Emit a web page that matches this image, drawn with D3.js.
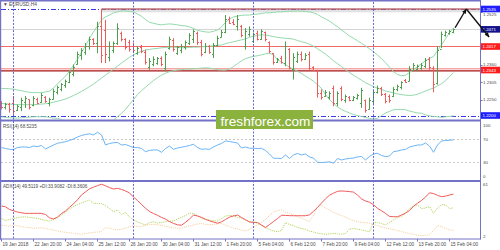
<!DOCTYPE html>
<html>
<head>
<meta charset="utf-8">
<script src="https://cdn.jsdelivr.net/npm/d3@7/dist/d3.min.js"></script>
<style>
html,body{margin:0;padding:0;background:#fff;}
svg{display:block;}
text{font-family:"Liberation Sans",Arial,sans-serif;}
</style>
</head>
<body>
<svg id="chart" width="500" height="250"></svg>
<script>
// ---------------- DATA ----------------
const symbolTitle = "\u25BC EURUSD,H4";
const rsiTitle = "RSI(14) 68.5235";
const adxTitle = "ADX(14) 49.5119 +DI:33.9082 -DI:8.3606";

const opens = [
1.2240,1.2226,1.2236,1.2238,1.2216,1.2228,1.2242,1.2252,1.2232,1.2252,
1.2244,1.2258,1.2240,1.2252,1.2275,1.2284,1.2295,1.2306,1.2332,1.2362,
1.2390,1.2400,1.2418,1.2440,1.2428,1.2482,1.2470,1.2385,1.2405,1.2428,
1.2460,1.2440,1.2430,1.2420,1.2398,1.2415,1.2400,1.2352,1.2362,1.2366,
1.2380,1.2350,1.2412,1.2438,1.2398,1.2405,1.2415,1.2428,1.2440,1.2460,
1.2432,1.2400,1.2418,1.2395,1.2422,1.2448,1.2462,1.2505,1.2495,1.2480,
1.2482,1.2420,1.2455,1.2435,1.2460,1.2442,1.2462,1.2430,1.2398,1.2368,
1.2380,1.2365,1.2408,1.2345,1.2372,1.2395,1.2378,1.2392,1.2352,1.2340,
1.2272,1.2262,1.2258,1.2285,1.2238,1.2285,1.2248,1.2258,1.2250,1.2254,
1.2240,1.2248,1.2220,1.2245,1.2274,1.2288,1.2268,1.2260,1.2260,1.2282,
1.2290,1.2312,1.2308,1.2342,1.2345,1.2350,1.2356,1.2378,1.2350,1.2302,
1.2410,1.2452,1.2458,1.2462];
const highs = [
1.2245,1.2240,1.2240,1.2261,1.2235,1.2256,1.2261,1.2250,1.2261,1.2256,
1.2271,1.2261,1.2256,1.2284,1.2294,1.2302,1.2313,1.2342,1.2360,1.2401,
1.2412,1.2428,1.2448,1.2443,1.2495,1.2535,1.2501,1.2433,1.2433,1.2490,
1.2464,1.2443,1.2438,1.2428,1.2417,1.2422,1.2407,1.2381,1.2386,1.2384,
1.2386,1.2401,1.2448,1.2443,1.2419,1.2425,1.2436,1.2459,1.2471,1.2464,
1.2438,1.2428,1.2422,1.2428,1.2451,1.2469,1.2516,1.2511,1.2503,1.2516,
1.2485,1.2475,1.2480,1.2461,1.2467,1.2471,1.2464,1.2433,1.2396,1.2381,
1.2388,1.2433,1.2412,1.2396,1.2401,1.2401,1.2396,1.2401,1.2355,1.2344,
1.2282,1.2280,1.2276,1.2294,1.2276,1.2292,1.2266,1.2261,1.2261,1.2268,
1.2287,1.2250,1.2256,1.2282,1.2294,1.2290,1.2271,1.2266,1.2290,1.2297,
1.2308,1.2315,1.2355,1.2365,1.2360,1.2365,1.2381,1.2384,1.2355,1.2417,
1.2464,1.2467,1.2469,1.2474];
const lows = [
1.2219,1.2219,1.2209,1.2203,1.2214,1.2214,1.2224,1.2219,1.2229,1.2235,
1.2240,1.2240,1.2229,1.2250,1.2266,1.2276,1.2287,1.2302,1.2323,1.2360,
1.2375,1.2391,1.2407,1.2422,1.2396,1.2365,1.2365,1.2370,1.2396,1.2422,
1.2433,1.2407,1.2401,1.2396,1.2391,1.2396,1.2360,1.2344,1.2355,1.2360,
1.2355,1.2339,1.2407,1.2401,1.2391,1.2396,1.2407,1.2422,1.2428,1.2422,
1.2386,1.2396,1.2394,1.2381,1.2417,1.2446,1.2459,1.2488,1.2484,1.2467,
1.2446,1.2407,1.2448,1.2428,1.2436,1.2438,1.2433,1.2396,1.2360,1.2365,
1.2363,1.2355,1.2345,1.2313,1.2365,1.2370,1.2375,1.2344,1.2339,1.2256,
1.2250,1.2259,1.2250,1.2229,1.2229,1.2245,1.2240,1.2245,1.2245,1.2250,
1.2224,1.2209,1.2219,1.2235,1.2269,1.2261,1.2238,1.2240,1.2259,1.2276,
1.2282,1.2303,1.2308,1.2339,1.2339,1.2344,1.2350,1.2344,1.2273,1.2297,
1.2412,1.2448,1.2454,1.2459];
const closes = [
1.2228,1.2236,1.2220,1.2214,1.2230,1.2250,1.2256,1.2228,1.2255,1.2240,
1.2265,1.2245,1.2252,1.2278,1.2290,1.2298,1.2309,1.2336,1.2352,1.2394,
1.2405,1.2420,1.2440,1.2428,1.2480,1.2390,1.2395,1.2420,1.2428,1.2475,
1.2440,1.2415,1.2410,1.2405,1.2412,1.2402,1.2368,1.2372,1.2378,1.2380,
1.2362,1.2395,1.2440,1.2410,1.2414,1.2420,1.2430,1.2452,1.2465,1.2430,
1.2395,1.2420,1.2400,1.2422,1.2445,1.2462,1.2505,1.2492,1.2488,1.2505,
1.2452,1.2465,1.2472,1.2455,1.2442,1.2465,1.2440,1.2402,1.2368,1.2378,
1.2368,1.2420,1.2350,1.2385,1.2392,1.2378,1.2390,1.2350,1.2342,1.2270,
1.2258,1.2275,1.2270,1.2240,1.2270,1.2252,1.2262,1.2250,1.2258,1.2265,
1.2280,1.2218,1.2250,1.2275,1.2288,1.2268,1.2245,1.2248,1.2284,1.2292,
1.2304,1.2306,1.2345,1.2358,1.2355,1.2360,1.2375,1.2352,1.2300,1.2405,
1.2455,1.2462,1.2466,1.2471];

const bbUpper = [
1.2285,1.2285,1.2284,1.2283,1.2280,1.2278,1.2275,1.2273,1.2272,1.2272,
1.2272,1.2274,1.2277,1.2286,1.2300,1.2311,1.2324,1.2339,1.2358,1.2377,
1.2399,1.2419,1.2443,1.2463,1.2482,1.2501,1.2510,1.2516,1.2523,1.2526,
1.2529,1.2529,1.2527,1.2526,1.2519,1.2512,1.2502,1.2493,1.2490,1.2487,
1.2485,1.2487,1.2488,1.2487,1.2485,1.2483,1.2482,1.2479,1.2474,1.2468,
1.2465,1.2463,1.2462,1.2465,1.2469,1.2479,1.2493,1.2504,1.2510,1.2513,
1.2515,1.2516,1.2516,1.2518,1.2519,1.2521,1.2523,1.2523,1.2524,1.2526,
1.2526,1.2527,1.2528,1.2528,1.2529,1.2528,1.2527,1.2526,1.2523,1.2518,
1.2510,1.2504,1.2497,1.2488,1.2479,1.2469,1.2460,1.2450,1.2443,1.2435,
1.2427,1.2419,1.2410,1.2401,1.2390,1.2379,1.2366,1.2352,1.2338,1.2329,
1.2325,1.2327,1.2335,1.2344,1.2354,1.2363,1.2372,1.2380,1.2385,1.2404,
1.2422,1.2441,1.2460,1.2476];
const bbMiddle = [
1.2238,1.2237,1.2236,1.2235,1.2234,1.2234,1.2234,1.2234,1.2234,1.2235,
1.2236,1.2237,1.2239,1.2242,1.2245,1.2248,1.2252,1.2257,1.2263,1.2269,
1.2276,1.2283,1.2291,1.2299,1.2308,1.2318,1.2327,1.2336,1.2346,1.2355,
1.2365,1.2374,1.2383,1.2391,1.2397,1.2402,1.2406,1.2408,1.2410,1.2411,
1.2413,1.2414,1.2415,1.2415,1.2414,1.2413,1.2413,1.2414,1.2415,1.2415,
1.2416,1.2417,1.2418,1.2419,1.2421,1.2422,1.2426,1.2429,1.2432,1.2435,
1.2438,1.2441,1.2446,1.2449,1.2452,1.2454,1.2453,1.2451,1.2448,1.2446,
1.2444,1.2443,1.2442,1.2440,1.2436,1.2432,1.2429,1.2424,1.2418,1.2410,
1.2402,1.2393,1.2383,1.2372,1.2363,1.2354,1.2344,1.2335,1.2327,1.2319,
1.2311,1.2303,1.2297,1.2291,1.2286,1.2282,1.2277,1.2274,1.2271,1.2268,
1.2266,1.2264,1.2263,1.2264,1.2267,1.2272,1.2277,1.2282,1.2286,1.2293,
1.2300,1.2310,1.2322,1.2335];
const bbLower = [
1.2196,1.2194,1.2193,1.2192,1.2192,1.2193,1.2194,1.2195,1.2196,1.2196,
1.2196,1.2196,1.2194,1.2192,1.2191,1.2188,1.2183,1.2177,1.2172,1.2169,
1.2167,1.2166,1.2164,1.2164,1.2166,1.2169,1.2174,1.2180,1.2186,1.2196,
1.2207,1.2219,1.2235,1.2250,1.2266,1.2278,1.2289,1.2300,1.2310,1.2319,
1.2327,1.2333,1.2338,1.2341,1.2343,1.2344,1.2346,1.2346,1.2347,1.2348,
1.2349,1.2350,1.2349,1.2347,1.2344,1.2343,1.2343,1.2346,1.2354,1.2363,
1.2372,1.2379,1.2383,1.2386,1.2388,1.2391,1.2394,1.2396,1.2391,1.2375,
1.2368,1.2360,1.2352,1.2346,1.2339,1.2332,1.2324,1.2316,1.2308,1.2297,
1.2285,1.2266,1.2250,1.2238,1.2227,1.2219,1.2213,1.2208,1.2203,1.2200,
1.2197,1.2194,1.2191,1.2189,1.2191,1.2200,1.2208,1.2213,1.2218,1.2219,
1.2219,1.2218,1.2214,1.2211,1.2208,1.2207,1.2202,1.2199,1.2197,1.2196,
1.2194,1.2196,1.2197,1.2199];

const rsi = [
55.4,53.7,52.3,52.0,55.4,56.3,56.3,55.4,58.0,56.8,
58.9,52.9,56.3,59.7,62.7,64.0,65.4,67.4,70.0,73.4,
76.0,77.8,78.9,76.9,81.5,76.9,59.7,62.3,63.6,64.0,
59.7,60.5,58.0,55.1,55.4,53.7,48.3,50.3,51.2,51.2,
47.2,53.7,58.0,52.3,54.6,55.8,57.2,58.9,60.9,55.4,
52.3,52.9,52.3,56.3,59.7,62.3,66.6,65.8,64.3,63.2,
54.6,56.3,54.1,54.1,53.7,54.1,50.3,44.3,36.9,36.9,
36.6,42.6,36.6,42.6,45.2,42.6,44.3,39.2,37.4,30.0,
29.7,30.0,31.0,28.3,36.6,34.0,35.7,36.6,37.4,39.2,
40.0,34.0,40.0,44.3,45.5,41.7,39.7,40.8,48.3,49.4,
51.2,52.0,56.3,58.0,59.7,59.7,63.2,58.0,47.2,59.7,
66.6,67.4,67.8,68.52];

const adx = [
36.0,35.1,32.1,30.6,29.2,28.3,27.7,27.7,27.7,27.7,
27.7,26.4,22.6,21.3,23.5,27.5,30.4,34.6,38.5,43.1,
48.5,52.1,55.6,57.4,59.2,60.7,59.0,56.9,55.3,56.0,
54.9,53.1,50.9,46.2,42.3,37.7,33.5,29.9,27.5,25.5,
23.1,21.2,18.4,16.3,14.7,14.2,17.5,21.3,25.7,24.7,
23.2,21.0,19.2,17.8,16.5,18.1,20.7,23.4,24.7,25.8,
23.0,20.5,17.9,17.5,17.3,14.5,11.6,15.0,18.4,21.8,
25.5,25.4,25.1,25.0,25.0,25.0,25.0,26.0,30.0,34.4,
39.4,44.2,48.3,50.6,52.7,53.1,52.8,52.4,51.8,48.4,
44.1,41.7,40.3,37.4,33.4,30.6,27.7,24.2,23.9,23.9,
25.8,27.9,30.9,35.8,39.2,42.3,46.2,51.0,50.2,48.1,
46.6,47.2,48.5,49.51];
const plusDI = [
21.8,19.6,20.7,21.8,22.7,23.5,23.8,23.0,22.6,22.1,
20.7,19.8,19.0,20.7,22.4,25.8,29.2,32.6,35.5,37.7,
39.4,41.1,42.8,38.9,39.1,38.9,36.6,33.2,29.6,31.5,
26.4,28.7,23.5,20.1,17.9,16.2,14.5,17.3,18.1,16.7,
17.3,18.2,18.8,19.0,21.3,23.3,25.2,28.1,27.5,25.2,
21.8,20.7,20.1,19.3,19.0,21.8,24.7,25.2,25.2,23.0,
22.2,20.1,18.4,17.9,16.4,13.9,11.6,9.4,7.7,6.9,
8.2,17.3,15.0,13.9,11.6,10.5,9.4,7.7,6.5,5.0,
4.5,3.9,4.5,5.0,4.5,4.0,4.8,9.9,10.4,9.9,
9.0,7.7,7.1,17.3,17.3,16.2,14.5,17.3,20.1,23.0,
23.9,28.1,33.2,36.0,37.2,33.2,33.8,35.5,27.7,33.8,
37.7,37.2,33.2,33.91];
const minusDI = [
14.5,13.6,12.8,14.5,13.6,12.6,11.9,11.4,10.7,11.1,
11.4,10.5,9.7,8.8,7.7,6.7,6.3,5.7,5.0,4.2,
4.0,4.7,5.4,6.1,6.5,7.0,11.3,10.8,9.7,9.0,
9.7,11.1,12.2,14.1,12.8,12.8,14.5,15.0,15.1,14.7,
14.2,13.0,12.0,11.3,10.9,10.8,12.2,13.6,14.5,15.6,
16.2,15.1,14.7,15.1,15.8,16.2,14.2,12.8,10.8,10.3,
8.8,7.9,9.4,12.2,14.5,17.3,20.7,25.2,29.2,30.9,
31.5,29.2,27.5,26.0,24.1,22.4,20.1,18.4,25.8,34.9,
37.2,33.8,31.5,28.7,26.9,25.2,23.5,21.3,19.6,18.1,
17.5,17.2,16.4,15.0,13.9,12.2,11.1,10.1,9.4,8.2,
7.1,5.9,4.8,4.0,2.9,2.3,2.8,3.5,8.2,13.9,
12.8,10.5,8.8,8.36];

const priceTicks = [1.2250, 1.2305, 1.2360, 1.2415, 1.2470, 1.2525];
const blueLevels = [1.2535, 1.2200];
const resistanceStartBar = 25;
const redLevel = 1.2417;
const strongLevel = 1.2343;
const boxedLabels = [1.2535, 1.2471, 1.2417, 1.2343, 1.2200];
const rsiLevels = [70, 30];
const rsiAxisLabels = [100, 70, 30, 0];
const adxAxisLabels = [61, 2];
const timeLabels = ["19 Jan 2018","22 Jan 20:00","24 Jan 04:00","25 Jan 12:00","26 Jan 20:00",
  "30 Jan 04:00","31 Jan 12:00","1 Feb 20:00","5 Feb 04:00","6 Feb 12:00","7 Feb 20:00",
  "9 Feb 04:00","12 Feb 12:00","13 Feb 20:00","15 Feb 04:00"];
const timeLabelBars = [0,8,16,24,32,40,48,56,64,72,80,88,96,104,112];
const weekSeparatorBars = [3,33,63,93];
const forecastBars = [113.4, 116.2, 121.9];
const forecastPrices = [1.2476, 1.2535, 1.2447];
const watermark = "freshforex.com";

// ---------------- SCALES ----------------
const svg = d3.select("#chart");
const axisX = 480.5;
const x = d3.scaleLinear().domain([0, 113]).range([1.5, 453.5]);
const yP = d3.scaleLinear().domain([1.2200, 1.2535]).range([115.5, 9]);
const yR = d3.scaleLinear().domain([0, 100]).range([179.8, 121.5]);
const yA = d3.scaleLinear().domain([2, 61]).range([236, 184]);

const defs = svg.append("defs");
defs.append("clipPath").attr("id","cMain").append("rect").attr("x",1).attr("y",1.5).attr("width",479.5).attr("height",118);
defs.append("clipPath").attr("id","cRsi").append("rect").attr("x",1).attr("y",121.5).attr("width",479.5).attr("height",58.5);
defs.append("clipPath").attr("id","cAdx").append("rect").attr("x",1).attr("y",182).attr("width",479.5).attr("height",56.5);

const BORDER = "#7272c6";
const snap = v => Math.round(v) + 0.5;

// ---------------- MAIN PANEL ----------------
const gm = svg.append("g").attr("clip-path","url(#cMain)");
blueLevels.forEach(p => {
  gm.append("line").attr("x1",1).attr("x2",axisX).attr("y1",snap(yP(p))).attr("y2",snap(yP(p)))
    .attr("stroke","#3c3ce6").attr("stroke-dasharray","5,2,1,2");
});
gm.append("rect").attr("x",x(resistanceStartBar)).attr("y",yP(1.2535)+0.5)
  .attr("width",axisX - x(resistanceStartBar)).attr("height",2.8).attr("fill","#e2e2e2");
gm.append("line").attr("x1",x(resistanceStartBar)).attr("x2",axisX)
  .attr("y1",yP(1.2535)).attr("y2",yP(1.2535)).attr("stroke","#a52a2a").attr("stroke-width",1.2);

const lastClose = closes[closes.length-1];
gm.append("line").attr("x1",1).attr("x2",axisX).attr("y1",snap(yP(lastClose))).attr("y2",snap(yP(lastClose)))
  .attr("stroke","#d4d4d4");
gm.append("line").attr("x1",1).attr("x2",axisX).attr("y1",yP(redLevel)).attr("y2",yP(redLevel))
  .attr("stroke","#f06a6a").attr("stroke-width",1);
gm.append("line").attr("x1",1).attr("x2",axisX).attr("y1",yP(strongLevel)-1.2).attr("y2",yP(strongLevel)-1.2)
  .attr("stroke","#f07a7a").attr("stroke-width",1);
gm.append("line").attr("x1",1).attr("x2",axisX).attr("y1",yP(strongLevel)+0.8).attr("y2",yP(strongLevel)+0.8)
  .attr("stroke","#a81414").attr("stroke-width",1.4);

// Bollinger bands
const lineP = d3.line().x((d,i)=>x(i)).y(d=>yP(d));
[bbUpper, bbMiddle, bbLower].forEach(arr => {
  gm.append("path").attr("d", lineP(arr)).attr("fill","none").attr("stroke","#93d8ab").attr("stroke-width",1);
});

// OHLC bars
const bars = d3.range(closes.length).map(i => ({i, o:opens[i], h:highs[i], l:lows[i], c:closes[i]}));
gm.selectAll("path.bar").data(bars).enter().append("path").attr("class","bar")
  .attr("d", d => {
    const cx = x(d.i);
    return `M${cx},${yP(d.h)}V${yP(d.l)}M${cx-1.5},${snap(yP(d.o))}H${cx}M${cx},${snap(yP(d.c))}H${cx+1.5}`;
  })
  .attr("fill","none").attr("stroke", d => d.c >= d.o ? "#4e9f4e" : "#ef5a5a").attr("stroke-width",1);

// ---------------- RSI PANEL ----------------
const gr = svg.append("g").attr("clip-path","url(#cRsi)");
rsiLevels.forEach(v => {
  gr.append("line").attr("x1",1).attr("x2",axisX).attr("y1",snap(yR(v))).attr("y2",snap(yR(v)))
    .attr("stroke","#c9c9c9").attr("stroke-dasharray","2,2");
});
gr.append("path").attr("d", d3.line().x((d,i)=>x(i)).y(d=>yR(d))(rsi))
  .attr("fill","none").attr("stroke","#6ab4f6").attr("stroke-width",1);

// ---------------- ADX PANEL ----------------
const ga = svg.append("g").attr("clip-path","url(#cAdx)");
const lineA = d3.line().x((d,i)=>x(i)).y(d=>yA(d));
ga.append("path").attr("d", lineA(minusDI)).attr("fill","none").attr("stroke","#f6cf9f").attr("stroke-width",1).attr("stroke-dasharray","1.2,1");
ga.append("path").attr("d", lineA(plusDI)).attr("fill","none").attr("stroke","#b3d45c").attr("stroke-width",1).attr("stroke-dasharray","1.2,1");
ga.append("path").attr("d", lineA(adx)).attr("fill","none").attr("stroke","#f15a5a").attr("stroke-width",1);

// ---------------- WEEK SEPARATORS ----------------
weekSeparatorBars.forEach(b => {
  svg.append("line").attr("x1",x(b)).attr("x2",x(b)).attr("y1",2).attr("y2",238.5)
    .attr("stroke","#5656d2").attr("stroke-dasharray","2,1.5").attr("stroke-width",0.9);
});

// ---------------- FRAME ----------------
svg.append("line").attr("x1",0).attr("x2",axisX).attr("y1",0.75).attr("y2",0.75).attr("stroke",BORDER).attr("stroke-width",1.5);
svg.append("line").attr("x1",0.6).attr("x2",0.6).attr("y1",0).attr("y2",239.5).attr("stroke",BORDER).attr("stroke-width",1.2);
svg.append("line").attr("x1",axisX).attr("x2",axisX).attr("y1",0).attr("y2",239.5).attr("stroke",BORDER).attr("stroke-width",1);
svg.append("line").attr("x1",0).attr("x2",axisX).attr("y1",120.5).attr("y2",120.5).attr("stroke",BORDER).attr("stroke-width",2);
svg.append("line").attr("x1",0).attr("x2",axisX).attr("y1",181).attr("y2",181).attr("stroke",BORDER).attr("stroke-width",2);
svg.append("line").attr("x1",0).attr("x2",axisX).attr("y1",239).attr("y2",239).attr("stroke",BORDER).attr("stroke-width",1.2);

// titles
const TXT = "#4a4a4a";
svg.append("text").attr("x",3).attr("y",6.3).attr("font-size",4.8).attr("fill",TXT).text(symbolTitle);
svg.append("text").attr("x",3).attr("y",127.8).attr("font-size",4.6).attr("fill",TXT).text(rsiTitle);
svg.append("text").attr("x",3).attr("y",187.5).attr("font-size",4.6).attr("fill",TXT).text(adxTitle);

// ---------------- PRICE AXIS ----------------
const BOX_H = 6.6;
priceTicks.forEach(p => {
  const ty = yP(p);
  svg.append("line").attr("x1",axisX).attr("x2",axisX+2).attr("y1",snap(ty)).attr("y2",snap(ty)).attr("stroke",BORDER);
  // distance to the nearest boxed label: labels fully hidden behind a box are not drawn,
  // labels partly covered are pushed just clear of the box (as in the reference)
  const nearest = d3.least(boxedLabels, b => Math.abs(yP(b) - ty));
  const dist = ty - yP(nearest);
  if (Math.abs(dist) < 2.5) return;
  let base = ty + 1.6;
  if (Math.abs(dist) < 6.8) base = dist > 0 ? yP(nearest) + BOX_H/2 + 3.6 : yP(nearest) - BOX_H/2 - 0.4;
  svg.append("text").attr("x",483).attr("y",base).attr("font-size",4.4).attr("fill",TXT).text(p.toFixed(4));
});
const boxColor = p => (p === lastClose ? "#12128c" : (p === redLevel || p === strongLevel) ? "#ff1c1c" : "#1e1eff");
boxedLabels.forEach(p => {
  svg.append("rect").attr("x",481).attr("y",yP(p)-BOX_H/2).attr("width",19).attr("height",BOX_H).attr("fill",boxColor(p));
  svg.append("text").attr("x",482.5).attr("y",yP(p)+1.6).attr("font-size",4.4).attr("fill","#fff").text(p.toFixed(4));
});

// RSI & ADX axis labels
rsiAxisLabels.forEach(v => {
  const yy = Math.min(Math.max(yR(v), 125), 176.3);
  svg.append("text").attr("x",483).attr("y",yy+1.6).attr("font-size",4.4).attr("fill",TXT).text(v);
});
adxAxisLabels.forEach(v => {
  svg.append("text").attr("x",483).attr("y",yA(v)+1.6).attr("font-size",4.4).attr("fill",TXT).text(v);
});

// ---------------- TIME AXIS ----------------
timeLabelBars.forEach((b, k) => {
  svg.append("line").attr("x1",x(b)).attr("x2",x(b)).attr("y1",239).attr("y2",241.5).attr("stroke",BORDER);
  svg.append("text").attr("x",x(b)+1).attr("y",245.6).attr("font-size",4.7).attr("fill",TXT).text(timeLabels[k]);
});

// ---------------- FORECAST ARROWS ----------------
const pts = forecastBars.map((b,k) => [x(b), yP(forecastPrices[k])]);
function arrow(p0, p1) {
  svg.append("line").attr("x1",p0[0]).attr("y1",p0[1]).attr("x2",p1[0]).attr("y2",p1[1])
    .attr("stroke","#111").attr("stroke-width",1.4);
  const ang = Math.atan2(p1[1]-p0[1], p1[0]-p0[0]);
  const L = 5, w = 0.45;
  const a = [p1[0]-L*Math.cos(ang-w), p1[1]-L*Math.sin(ang-w)];
  const c = [p1[0]-L*Math.cos(ang+w), p1[1]-L*Math.sin(ang+w)];
  svg.append("path").attr("d",`M${a[0]},${a[1]}L${p1[0]},${p1[1]}L${c[0]},${c[1]}Z`).attr("fill","#111");
}
arrow(pts[0], pts[1]);
arrow(pts[1], pts[2]);

// ---------------- WATERMARK ----------------
svg.append("rect").attr("x",216).attr("y",110).attr("width",97).attr("height",19).attr("fill","#8cb23e");
svg.append("text").attr("x",220.5).attr("y",125.5).attr("font-size",13.6).attr("fill","#fff").text(watermark);
</script>
</body>
</html>
